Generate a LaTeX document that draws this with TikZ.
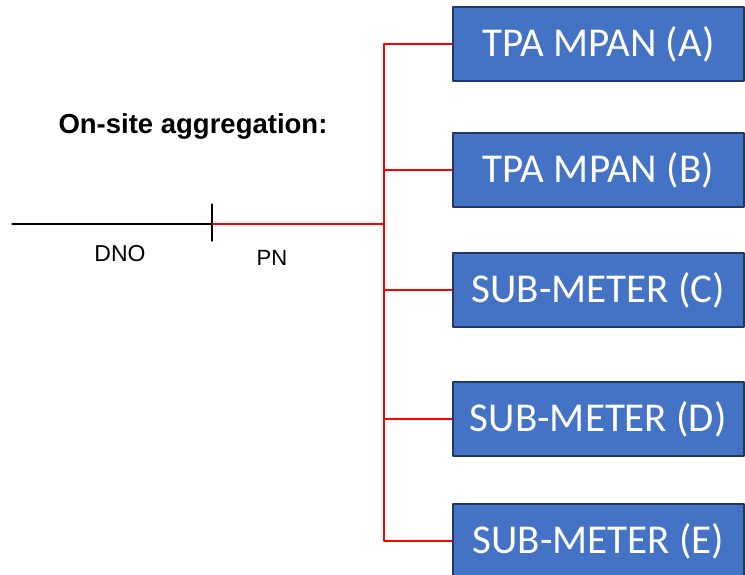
\documentclass[tikz,border=0pt]{standalone}
\usepackage{fontspec}
\setmainfont{Liberation Sans}
\newfontfamily\boxfont{Carlito}
\usetikzlibrary{positioning}
\begin{document}
\begin{tikzpicture}[x=1pt, y=-1pt, line cap=round, line join=round]
			\tikzset{meter/.style={draw={rgb,255:red,31;green,56;blue,100}, line width=1.6pt, fill={rgb,255:red,68;green,114;blue,196}, text=white, minimum width=291pt, minimum height=74pt, inner sep=0pt, font=\boxfont\fontsize{41}{46}\selectfont},
				feed/.style={red, line width=1.3pt}}
			\useasboundingbox (0,0) rectangle (745,575);
			\node[font=\bfseries\fontsize{27.5}{32}\selectfont] (title) at (193,126) {On-site aggregation:};
			\coordinate (dno) at (12,224);
			\coordinate (cut) at (212,224);
			\coordinate (bus) at (384,224);
			\node[meter, anchor=west] (mA) at (452,44) {TPA MPAN (A)};
			\node[meter, anchor=west] (mB) at (452,170) {TPA MPAN (B)};
			\node[meter, anchor=west] (mC) at (452,290) {SUB-METER (C)};
			\node[meter, anchor=west] (mD) at (452,419) {SUB-METER (D)};
			\node[meter, anchor=west] (mE) at (452,541) {SUB-METER (E)};
			\draw[line width=1.2pt] (dno) -- (cut);
			\draw[line width=1.2pt] ([yshift=-17pt]cut) -- ([yshift=20pt]cut);
			\draw[feed] (cut) -- (bus);
			\draw[feed] (bus) |- (mA.west);
			\draw[feed] (bus) |- (mE.west);
			\foreach \m in {mB,mC,mD} \draw[feed] (bus |- \m.west) -- (\m.west);
			\node[font=\fontsize{23}{27}\selectfont] (dnolbl) at (120,254) {DNO};
			\node[font=\fontsize{22}{26}\selectfont] (pnlbl) at (272,258) {PN};
		\end{tikzpicture}
\end{document}
